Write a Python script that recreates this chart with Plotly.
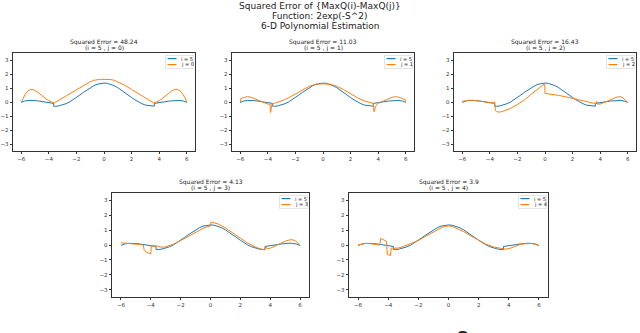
import plotly.graph_objects as go

# reference curve i = 5 (same in every panel)
x_i5 = [-6, -5.75, -5.5, -5.25, -5.0, -4.75, -4.5, -4.25, -4.0, -3.75, -3.65, -3.65, -3.5, -3.25,
        -3.0, -2.75, -2.5, -2.25, -2.0, -1.75, -1.5, -1.25, -1.0, -0.75, -0.5, -0.25, 0,
        0.25, 0.5, 0.75, 1.0, 1.25, 1.5, 1.75, 2.0, 2.25, 2.5, 2.75, 3.0, 3.25, 3.5, 3.65,
        3.65, 3.75, 4.0, 4.25, 4.5, 4.75, 5.0, 5.25, 5.5, 5.75, 6]
y_i5 = [-0.03, 0.07, 0.11, 0.12, 0.1, 0.07, 0.03, -0.02, -0.06, -0.09, -0.1, -0.3, -0.31, -0.27,
        -0.22, -0.12, 0.0, 0.15, 0.32, 0.5, 0.68, 0.86, 1.02, 1.16, 1.27, 1.33, 1.35,
        1.33, 1.27, 1.16, 1.02, 0.86, 0.68, 0.5, 0.32, 0.15, 0.0, -0.12, -0.22, -0.27, -0.31, -0.3,
        -0.1, -0.09, -0.06, -0.02, 0.03, 0.07, 0.1, 0.12, 0.11, 0.07, -0.03]

# j = 0
x_j0 = [-6, -5.85, -5.7, -5.5, -5.3, -5.1, -4.9, -4.7, -4.5, -4.25, -4.0, -3.75, -3.6, -3.4,
        -3.0, -2.5, -2.0, -1.5, -1.0, -0.75, -0.5, -0.25, 0, 0.25, 0.5, 0.75, 1.0, 1.5, 2.0,
        2.5, 3.0, 3.4, 3.6, 3.75, 4.0, 4.25, 4.5, 4.7, 4.9, 5.1, 5.3, 5.5, 5.7, 5.85, 6]
y_j0 = [0.0, 0.35, 0.58, 0.8, 0.9, 0.88, 0.78, 0.62, 0.45, 0.25, 0.08, -0.03, -0.05, 0.05,
        0.28, 0.58, 0.9, 1.2, 1.45, 1.55, 1.6, 1.62, 1.62, 1.62, 1.6, 1.55, 1.45, 1.2, 0.9,
        0.58, 0.28, 0.05, -0.05, -0.03, 0.08, 0.25, 0.45, 0.62, 0.78, 0.88, 0.9, 0.8, 0.58, 0.35, 0.0]

# j = 1
x_j1 = [-6, -5.97, -5.8, -5.5, -5.25, -5.0, -4.75, -4.5, -4.25, -4.0, -3.85, -3.8, -3.75, -3.7,
        -3.5, -3.0, -2.5, -2.0, -1.5, -1.0, -0.5, 0, 0.5, 1.0, 1.5, 2.0, 2.5, 3.0, 3.5, 3.65,
        3.7, 3.8, 3.9, 4.0, 4.25, 4.5, 4.75, 5.0, 5.25, 5.5, 5.8, 5.95, 6]
y_j1 = [0.0, 0.22, 0.3, 0.38, 0.35, 0.25, 0.12, 0.0, -0.1, -0.15, -0.15, -0.75, -0.45, -0.12,
        -0.08, 0.08, 0.3, 0.58, 0.88, 1.12, 1.27, 1.3, 1.27, 1.12, 0.88, 0.58, 0.3, 0.08, -0.08, -0.1,
        -0.7, -0.35, -0.2, -0.1, 0.02, 0.12, 0.25, 0.33, 0.38, 0.35, 0.22, 0.18, 0.0]

# j = 2
x_j2 = [-6, -5.75, -5.5, -5.25, -5.0, -4.5, -4.0, -3.7, -3.65, -3.6, -3.5, -3.25, -3.0, -2.5,
        -2.0, -1.5, -1.0, -0.5, -0.25, -0.02, 0.0, 0.5, 1.0, 1.5, 2.0, 2.5, 3.0, 3.5, 3.7, 3.75,
        3.8, 4.0, 4.25, 4.5, 4.75, 5.0, 5.25, 5.45, 5.65, 5.85, 6]
y_j2 = [0.05, 0.1, 0.12, 0.12, 0.1, 0.03, -0.05, -0.08, 0.02, -0.6, -0.7, -0.72, -0.65, -0.45,
        -0.18, 0.15, 0.55, 0.95, 1.15, 1.3, 0.62, 0.56, 0.47, 0.37, 0.25, 0.12, 0.0, -0.08, -0.1, 0.05,
        -0.15, -0.15, -0.05, 0.05, 0.15, 0.27, 0.36, 0.38, 0.3, 0.12, -0.05]

# j = 3
x_j3 = [-6, -5.75, -5.5, -5.0, -4.6, -4.5, -4.45, -4.3, -4.1, -4.0, -3.97, -3.8, -3.6, -3.5,
        -3.25, -3.0, -2.5, -2.0, -1.5, -1.0, -0.5, -0.25, 0.0, 0.03, 0.25, 0.5, 1.0, 1.5, 2.0,
        2.5, 3.0, 3.3, 3.6, 3.65, 3.7, 3.8, 4.0, 4.25, 4.5, 4.75, 5.0, 5.25, 5.45, 5.65, 5.85, 6]
y_j3 = [0.15, 0.13, 0.12, 0.08, 0.02, -0.02, -0.3, -0.48, -0.55, -0.6, -0.08, -0.05, -0.05, -0.1,
        -0.15, -0.12, 0.05, 0.3, 0.58, 0.88, 1.12, 1.22, 1.28, 1.55, 1.5, 1.42, 1.15, 0.8, 0.45,
        0.12, -0.12, -0.25, -0.32, -0.32, -0.1, -0.25, -0.22, -0.1, 0.03, 0.15, 0.25, 0.33, 0.36, 0.3, 0.15, -0.05]

# j = 4
x_j4 = [-6, -5.75, -5.5, -5.25, -5.0, -4.75, -4.55, -4.5, -4.3, -4.12, -4.1, -4.05, -3.85, -3.8,
        -3.6, -3.3, -3.0, -2.5, -2.0, -1.5, -1.0, -0.5, -0.25, 0, 0.25, 0.5, 1.0, 1.5, 2.0, 2.5,
        3.0, 3.5, 3.75, 4.0, 4.25, 4.5, 4.75, 5.0, 5.25, 5.5, 5.75, 6]
y_j4 = [0.0, 0.07, 0.1, 0.1, 0.08, 0.04, 0.0, 0.45, 0.35, 0.25, -0.1, -0.65, -0.7, -0.2,
        -0.22, -0.2, -0.1, 0.08, 0.3, 0.6, 0.9, 1.15, 1.25, 1.28, 1.25, 1.15, 0.9, 0.6, 0.3, 0.05,
        -0.13, -0.25, -0.28, -0.25, -0.15, -0.05, 0.03, 0.08, 0.1, 0.1, 0.05, -0.05]

j_values = [0, 1, 2, 3, 4]
errors = ["48.24", "11.03", "16.43", "4.13", "3.9"]
j_x = [x_j0, x_j1, x_j2, x_j3, x_j4]
j_y = [y_j0, y_j1, y_j2, y_j3, y_j4]
main_title = ["Squared Error of {MaxQ(i)-MaxQ(j)}", "Function: 2exp(-S^2)", "6-D Polynomial Estimation"]

BLUE, ORANGE = "#1f77b4", "#ff7f0e"
FONT = "DejaVu Sans"
W, H = 640, 333
# axes boxes in pixels: left, right, top, bottom
boxes = [(13, 195, 53, 151), (232, 414, 53, 151), (454, 636, 53, 151),
         (112, 309, 193, 297), (349, 548, 193, 297)]


def px(x):
    return x / W


def py(y):
    return 1 - y / H


fig = go.Figure()
layout = {}
annots = []
shapes = []
for k in range(5):
    n = k + 1
    sfx = "" if n == 1 else str(n)
    l, r, t, b = boxes[k]
    fig.add_trace(go.Scatter(x=x_i5, y=y_i5, mode="lines", name="i = 5",
                             line=dict(color=BLUE, width=1),
                             xaxis="x" + sfx, yaxis="y" + sfx))
    fig.add_trace(go.Scatter(x=j_x[k], y=j_y[k], mode="lines", name="j = %d" % j_values[k],
                             line=dict(color=ORANGE, width=1),
                             xaxis="x" + sfx, yaxis="y" + sfx))
    ax = dict(showline=True, mirror=True, linecolor="#333", linewidth=0.8, showgrid=False,
              zeroline=False, ticks="outside", ticklen=2.5, tickwidth=0.7, tickcolor="#333",
              tickfont=dict(size=5.5, color="#333", family=FONT))
    layout["xaxis" + sfx] = dict(ax, domain=[px(l), px(r)], range=[-6.6, 6.6],
                                 tickvals=[-6, -4, -2, 0, 2, 4, 6], anchor="y" + sfx)
    layout["yaxis" + sfx] = dict(ax, domain=[py(b), py(t)], range=[-3.5, 3.5],
                                 tickvals=[-3, -2, -1, 0, 1, 2, 3], anchor="x" + sfx)

    # subplot title, two lines
    for line, dy in (("Squared Error = %s" % errors[k], 11.5), ("(i = 5 , j = %d)" % j_values[k], 5)):
        annots.append(dict(text=line, x=px((l + r) / 2), y=py(t - dy), xref="paper", yref="paper",
                           xanchor="center", yanchor="middle", showarrow=False,
                           font=dict(size=6, color="#222", family=FONT)))

    # small legend box in the upper right corner
    shapes.append(dict(type="rect", xref="paper", yref="paper",
                       x0=px(r - 29.5), x1=px(r - 1.8), y0=py(t + 15.5), y1=py(t + 2.5),
                       line=dict(color="#d0d0d0", width=0.6), fillcolor="rgba(255,255,255,0.85)"))
    for name, color, dy in (("i = 5", BLUE, 5.6), ("j = %d" % j_values[k], ORANGE, 11.6)):
        shapes.append(dict(type="line", xref="paper", yref="paper",
                           x0=px(r - 27.5), x1=px(r - 18.5), y0=py(t + dy), y1=py(t + dy),
                           line=dict(color=color, width=1.2)))
        annots.append(dict(text=name, x=px(r - 16), y=py(t + dy), xref="paper", yref="paper",
                           xanchor="left", yanchor="middle", showarrow=False,
                           font=dict(size=5, color="#222", family=FONT)))

for line, y in zip(main_title, (5.5, 15.5, 25.5)):
    annots.append(dict(text=line, x=0.5, y=py(y), xref="paper", yref="paper",
                       xanchor="center", yanchor="middle", showarrow=False,
                       font=dict(size=9, color="#222", family=FONT)))
# part of a large glyph cut off by the bottom edge
annots.append(dict(text="2", x=px(463), y=py(324), xref="paper", yref="paper",
                   xanchor="center", yanchor="top", showarrow=False,
                   font=dict(size=20, color="#222", family=FONT)))

fig.update_layout(layout)
fig.update_layout(width=W, height=H, margin=dict(l=0, r=0, t=0, b=0),
                  paper_bgcolor="white", plot_bgcolor="white", annotations=annots,
                  shapes=shapes, showlegend=False, hovermode=False)
# drop the default page margin so the figure sits at the window's top-left corner
fig.write_html("out.html", config={"displayModeBar": False},
               post_script="document.body.style.margin='0px';")
